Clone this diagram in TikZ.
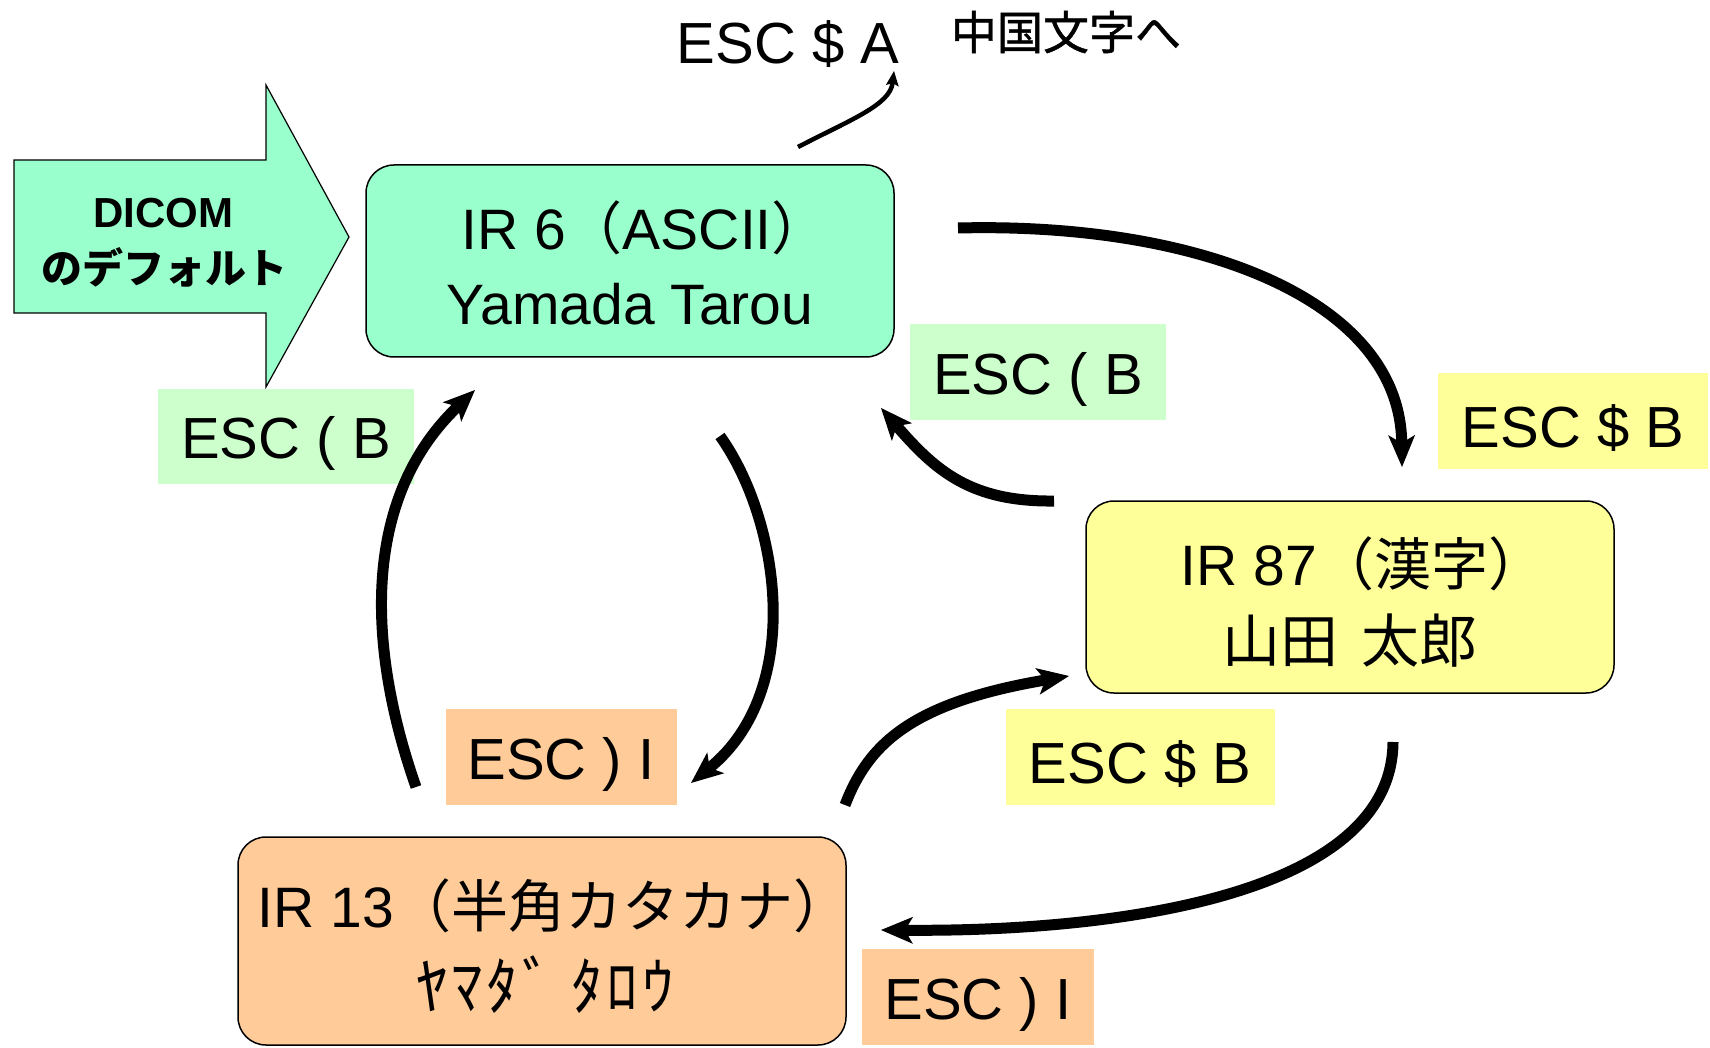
\documentclass[tikz,border=0pt]{standalone}
\usepackage{fontspec}
\setmainfont{Liberation Sans}
\newfontfamily\jp{Noto Sans CJK JP}
\newfontfamily\jpfb[FakeBold=1]{Noto Sans CJK JP}
\newfontfamily\jpls[LetterSpace=6]{Noto Sans CJK JP}
\usetikzlibrary{arrows.meta}
\definecolor{mint}{HTML}{99FFCC}
\definecolor{lgreen}{HTML}{CCFFCC}
\definecolor{lyellow}{HTML}{FFFF99}
\definecolor{lorange}{HTML}{FFCC99}
\begin{document}
\begin{tikzpicture}[x=1pt,y=-1pt,
  box/.style={draw=black, line width=1.5pt, rounded corners=28pt, inner sep=0pt},
  boxtxt/.style={inner sep=0pt, font=\fontsize{57}{60}\selectfont},
  lab/.style={inner sep=0pt},
  labtxt/.style={inner sep=0pt, font=\fontsize{58}{60}\selectfont},
  conn/.style={line width=11pt, -{Stealth[length=32pt,width=27pt,inset=8pt,line width=0pt]}},
  thinconn/.style={line width=4.5pt, -{Stealth[length=15pt,width=13pt,inset=3pt,line width=0pt]}},
]
\useasboundingbox (0,0) rectangle (1710,1048);
% block arrow
\draw[fill=mint, line width=1.2pt] (14,160) -- (266,160) -- (266,85) -- (349,237) -- (266,387) -- (266,313) -- (14,313) -- cycle;
\node[font=\fontsize{42}{48}\selectfont\bfseries] (dicom) at (163,213) {DICOM};
\node[font=\jp\fontsize{41}{48}\selectfont\bfseries] (dflt) at (164,267) {のデフォルト};
% boxes
\node[box, fill=mint, minimum width=528pt, minimum height=192pt] (ir6) at (630,261) {};
\node[box, fill=lyellow, minimum width=528pt, minimum height=192pt] (ir87) at (1350,597) {};
\node[box, fill=lorange, minimum width=608pt, minimum height=208pt] (ir13) at (542,941) {};
\node[boxtxt] (t6a) at (645,228) {IR 6{\jp（}ASCII{\jp）}};
\node[boxtxt] (t6b) at (630,304) {Yamada Tarou};
\node[boxtxt] (t87a) at (1363,564) {IR 87{\jp（漢字）}};
\node[font=\jp\fontsize{58}{60}\selectfont] (t87b) at (1350,641) {山田\hspace{24pt}太郎};
\node[boxtxt] (t13a) at (554,906) {IR 13{\jp（半角カタカナ）}};
\node[font=\jpls\fontsize{63}{66}\selectfont] (t13b) at (545,985) {ﾔﾏﾀﾞ ﾀﾛｳ};
% labels
\node[lab, fill=lgreen, minimum width=256pt, minimum height=95pt] (l1) at (286,436) {};
\node[lab, fill=lgreen, minimum width=256pt, minimum height=95pt] (l2) at (1038,372) {};
\node[lab, fill=lyellow, minimum width=270pt, minimum height=96pt] (l3) at (1573,421) {};
\node[lab, fill=lorange, minimum width=231pt, minimum height=96pt] (l4) at (561,757) {};
\node[lab, fill=lyellow, minimum width=269pt, minimum height=96pt] (l5) at (1140,757) {};
\node[lab, fill=lorange, minimum width=232pt, minimum height=96pt] (l6) at (978,997) {};
\node[labtxt] (l1t) at ([yshift=-7pt]l1.center) {ESC ( B};
\node[labtxt] (l2t) at ([yshift=-7pt]l2.center) {ESC ( B};
\node[labtxt] (l3t) at ([yshift=-7pt]l3.center) {ESC \$ B};
\node[labtxt] (l4t) at ([yshift=-7pt]l4.center) {ESC ) I};
\node[labtxt] (l5t) at ([yshift=-7pt]l5.center) {ESC \$ B};
\node[labtxt] (l6t) at ([yshift=-7pt]l6.center) {ESC ) I};
\node[labtxt] (escA) at (788,44) {ESC \$ A};
\node[font=\jpfb\fontsize{46}{50}\selectfont] (cn) at (1066,32) {中国文字へ};
% connector ends
\coordinate (a1s) at (798,147); \coordinate (a1e) at (894,71);
\coordinate (a2s) at (958,228); \coordinate (a2e) at (1402,467);
\coordinate (a3s) at (1054,501); \coordinate (a3e) at (881,408);
\coordinate (a4s) at (720,436); \coordinate (a4e) at (691,783);
\coordinate (a5s) at (416,787); \coordinate (a5e) at (475,390);
\coordinate (a6s) at (845,805); \coordinate (a6e) at (1069,676);
\coordinate (a7s) at (1393,742); \coordinate (a7e) at (881,930);
% connectors
\draw[thinconn] (a1s) .. controls (850,120) and (890,105) .. (a1e);
\draw[conn] (a2s) .. controls (1200,222) and (1400,300) .. (a2e);
\draw[conn] (a3s) .. controls (970,502) and (935,470) .. (a3e);
\draw[conn] (a4s) .. controls (780,520) and (805,690) .. (a4e);
\draw[conn] (a5s) .. controls (368,650) and (360,500) .. (a5e);
\draw[conn] (a6s) .. controls (868,745) and (910,703) .. (a6e);
\draw[conn] (a7s) .. controls (1392,900) and (1100,932) .. (a7e);
\end{tikzpicture}
\end{document}
